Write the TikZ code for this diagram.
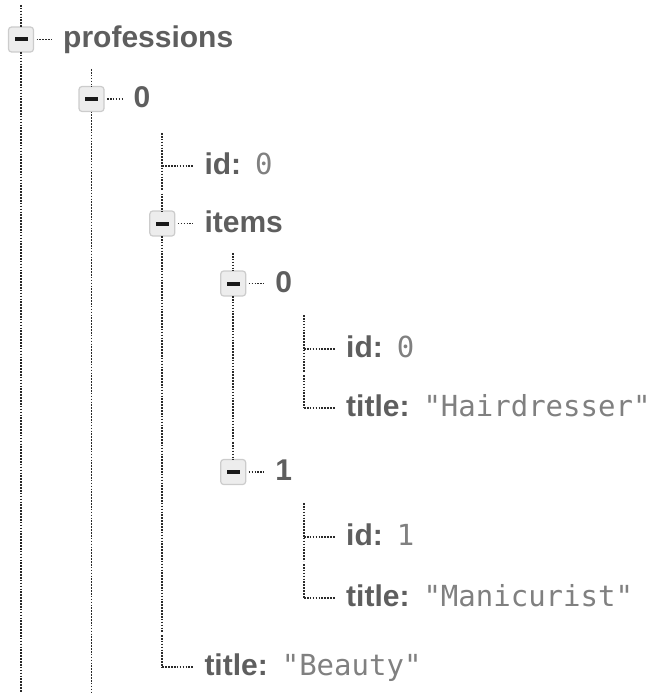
\documentclass[tikz,border=0pt]{standalone}
\usepackage{fontspec}
\setmainfont{Liberation Sans}
\newfontfamily\valfont{DejaVu Sans Mono}
\definecolor{keycol}{HTML}{5E5E5E}
\definecolor{valcol}{HTML}{808080}
\definecolor{dotcol}{HTML}{2A2A2A}
\newcommand\val[1]{\hspace{14pt}{\valfont\mdseries\fontsize{29}{35}\selectfont\color{valcol}#1}}

\begin{document}
\begin{tikzpicture}[x=1pt,y=-1pt,
  guide/.style={draw=dotcol, line width=1.9pt, dash pattern=on 1.6pt off 1.3pt},
  togglebox/.style={draw=gray!40, fill=gray!14, line width=1.2pt, rounded corners=3pt,
    minimum size=25pt, inner sep=0pt, outer sep=0pt,
    path picture={\fill[black!90, sharp corners] ([xshift=-6.5pt,yshift=-2pt]path picture bounding box.center)
      rectangle ++(13pt,4pt);}},
  keytext/.style={anchor=base west, inner sep=0pt, text=keycol,
    font=\fontsize{30}{36}\selectfont\bfseries},
  boxlink/.style={guide, shorten <=3pt, shorten >=11pt},
  leaflink/.style={guide, shorten >=11pt},
]
\useasboundingbox (0,0) rectangle (660,693);

% column positions of the tree levels
\def\xa{21}\def\xb{91.5}\def\xc{162.3}\def\xd{233.2}\def\xe{304}

% professions
\node[togglebox] (bP) at (\xa,39.5) {};
\node[keytext] (tP) at (\xa+42,48) {professions};
\coordinate (aP) at (\xa,5);
\coordinate (zP) at (\xa,693);
\draw[guide] (aP) -- (bP);
\draw[guide] (bP) -- (zP);
\draw[boxlink] (bP.east) -- (bP.east -| tP.west);

% professions / 0
\node[togglebox] (b0) at (\xb,99) {};
\node[keytext] (t0) at (\xb+42,107.5) {0};
\coordinate (a0) at (\xb,69);
\coordinate (z0) at (\xb,693);
\draw[guide] (a0) -- (b0);
\draw[guide] (b0) -- (z0);
\draw[boxlink] (b0.east) -- (b0.east -| t0.west);

% 0 / id
\coordinate (eI) at (\xc,166);
\coordinate (aI) at (\xc,133);
\coordinate (zI) at (\xc,190);
\node[keytext] (tI) at (\xc+42,174) {id:\val{0}};
\draw[guide] (aI) -- (eI) -- (zI);
\draw[leaflink] (eI) -- (eI -| tI.west);

% 0 / items
\node[togglebox] (bT) at (\xc,223.5) {};
\node[keytext] (tT) at (\xc+42,232) {items};
\coordinate (aT) at (\xc,193.5);
\coordinate (zT) at (\xc,632);
\draw[guide] (aT) -- (bT);
\draw[guide] (bT) -- (zT);
\draw[boxlink] (bT.east) -- (bT.east -| tT.west);

% items / 0
\node[togglebox] (bA) at (\xd,283.5) {};
\node[keytext] (tA) at (\xd+42,292) {0};
\coordinate (aA) at (\xd,253);
\coordinate (zA) at (\xd,439);
\draw[guide] (aA) -- (bA);
\draw[guide] (bA) -- (zA);
\draw[boxlink] (bA.east) -- (bA.east -| tA.west);

% items / 0 / id
\coordinate (eAI) at (\xe,349);
\coordinate (aAI) at (\xe,315);
\coordinate (zAI) at (\xe,372);
\node[keytext] (tAI) at (\xe+42,357) {id:\val{0}};
\draw[guide] (aAI) -- (eAI) -- (zAI);
\draw[leaflink] (eAI) -- (eAI -| tAI.west);

% items / 0 / title
\coordinate (eAT) at (\xe,408);
\coordinate (aAT) at (\xe,375);
\node[keytext] (tAT) at (\xe+42,416) {title:\val{"Hairdresser"}};
\draw[guide] (aAT) -- (eAT);
\draw[leaflink] (eAT) -- (eAT -| tAT.west);

% items / 1
\node[togglebox] (bB) at (\xd,472) {};
\node[keytext] (tB) at (\xd+42,480.5) {1};
\coordinate (aB) at (\xd,442);
\draw[guide] (aB) -- (bB);
\draw[boxlink] (bB.east) -- (bB.east -| tB.west);

% items / 1 / id
\coordinate (eBI) at (\xe,537);
\coordinate (aBI) at (\xe,503);
\coordinate (zBI) at (\xe,561);
\node[keytext] (tBI) at (\xe+42,545) {id:\val{1}};
\draw[guide] (aBI) -- (eBI) -- (zBI);
\draw[leaflink] (eBI) -- (eBI -| tBI.west);

% items / 1 / title
\coordinate (eBT) at (\xe,598);
\coordinate (aBT) at (\xe,564);
\node[keytext] (tBT) at (\xe+42,606) {title:\val{"Manicurist"}};
\draw[guide] (aBT) -- (eBT);
\draw[leaflink] (eBT) -- (eBT -| tBT.west);

% 0 / title
\coordinate (eS) at (\xc,667);
\coordinate (aS) at (\xc,635);
\node[keytext] (tS) at (\xc+42,675) {title:\val{"Beauty"}};
\draw[guide] (aS) -- (eS);
\draw[leaflink] (eS) -- (eS -| tS.west);
\end{tikzpicture}
\end{document}
